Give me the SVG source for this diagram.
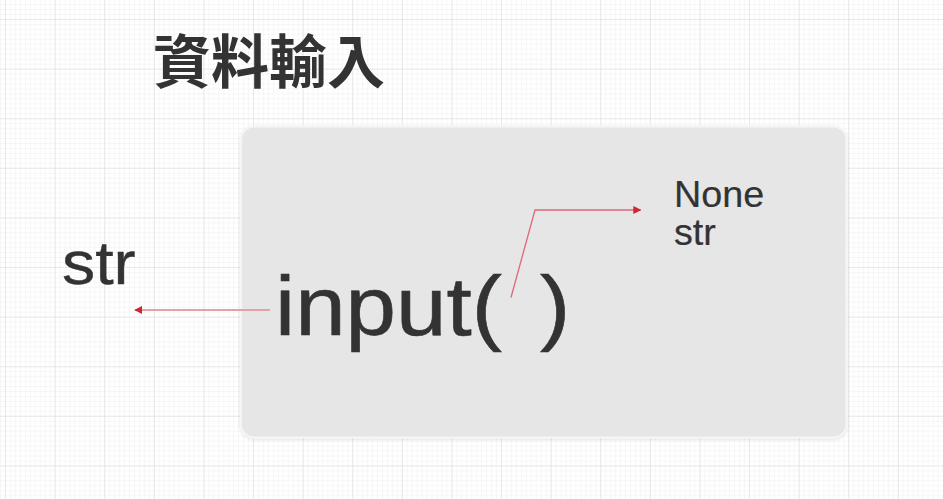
<svg xmlns="http://www.w3.org/2000/svg" width="943" height="499" viewBox="0 0 943 499">
  <style>
    .txt { font-family: "Liberation Sans", Arial, sans-serif; fill: #333333; }
    .title { font-family: "Noto Sans CJK TC", "Noto Sans CJK SC", sans-serif; font-weight: bold; fill: #333333; }
    .conn { fill: none; }
  </style>
  <defs>
    <pattern id="minor" x="5" y="19" width="4.96" height="4.96" patternUnits="userSpaceOnUse">
      <path d="M0 0 H4.96 M0 0 V4.96" stroke="#efefef" stroke-width="1" fill="none"/>
    </pattern>
    <pattern id="major" x="5" y="19" width="49.6" height="49.6" patternUnits="userSpaceOnUse">
      <path d="M0 0 H49.6 M0 0 V49.6" stroke="#d9d9d9" stroke-width="1" fill="none"/>
    </pattern>
    <filter id="shadow" x="-5%" y="-5%" width="110%" height="110%">
      <feDropShadow dx="0" dy="1" stdDeviation="1.5" flood-color="#000" flood-opacity="0.12"/>
    </filter>
    <marker id="arrow" viewBox="0 0 10 10" refX="9" refY="5" markerWidth="8" markerHeight="8" markerUnits="userSpaceOnUse" orient="auto">
      <path d="M0 0 L10 5 L0 10 Z" fill="#d12434"/>
    </marker>
  </defs>
  <rect width="943" height="499" fill="#ffffff"/>
  <rect width="943" height="499" fill="url(#minor)"/>
  <rect width="943" height="499" fill="url(#major)"/>

  <g id="title">
    <text class="title" x="153" y="83" font-size="58">資料輸入</text>
  </g>

  <g id="box">
    <rect x="241" y="126.5" width="605.5" height="311" rx="13" ry="13" fill="#e6e6e6" stroke="#f5f5f5" stroke-width="2" filter="url(#shadow)"/>
  </g>

  <g id="input-call">
    <text class="txt" font-size="84" stroke="#333333" stroke-width="0.6" transform="translate(275,335) scale(1.08,1)" xml:space="preserve">input(<tspan dx="12"> )</tspan></text>
  </g>

  <g id="output-str">
    <text class="txt" font-size="62" stroke="#333333" stroke-width="0.4" transform="translate(62,284) scale(1.07,1)">str</text>
  </g>

  <g id="param-types">
    <text class="txt" font-size="37" stroke="#333333" stroke-width="0.2" transform="translate(674,207) scale(1.02,1)">None</text>
    <text class="txt" font-size="37" stroke="#333333" stroke-width="0.2" transform="translate(674,245) scale(1.02,1)">str</text>
  </g>

  <g id="connectors">
    <line class="conn" x1="270" y1="310" x2="135" y2="310" stroke="#e3a2a8" stroke-width="2" marker-end="url(#arrow)"/>
    <polyline class="conn" points="511,297.5 535,210 640.5,210" stroke="#e06876" stroke-width="1.3" marker-end="url(#arrow)"/>
  </g>
</svg>
